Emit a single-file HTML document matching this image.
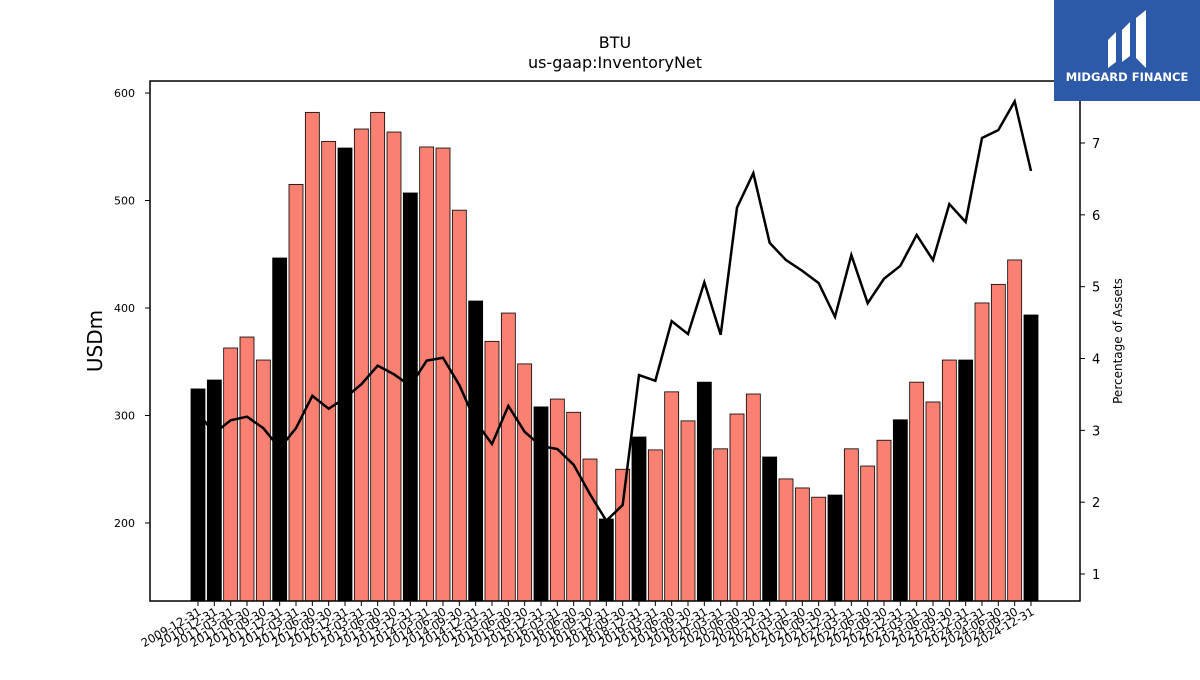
<!DOCTYPE html>
<html><head><meta charset="utf-8"><style>
body{margin:0;background:#fff;font-family:"Liberation Sans","DejaVu Sans",sans-serif}
svg text{font-family:"DejaVu Sans","Liberation Sans",sans-serif}
</style></head><body>
<svg id="c" width="1200" height="675" viewBox="0 0 1200 675">
<text x="615" y="48" font-size="16" text-anchor="middle">BTU</text>
<text x="615" y="68" font-size="16" text-anchor="middle">us-gaap:InventoryNet</text>
<g id="bars"></g><g id="line"></g><g id="axes"></g>
<rect x="150" y="81" width="930" height="520" fill="none" stroke="#000" stroke-width="1.5"/>
<text transform="translate(102,341) rotate(-90)" font-size="20" text-anchor="middle">USDm</text>
<text transform="translate(1122,341) rotate(-90)" font-size="12" text-anchor="middle">Percentage of Assets</text>
<g>
<rect x="1054" y="0" width="146" height="101" fill="#2d5aa8"/>
<path d="M1108 68 L1108 40 L1116 32 L1116 62 Z M1122 62 L1122 30 L1130 22 L1130 56 Z M1136 58 L1136 18 L1146 10 L1146 68 Z" fill="#fff"/>
<text x="1127" y="81" font-size="11.5" font-weight="bold" fill="#fff" text-anchor="middle">MIDGARD FINANCE</text>
</g>
</svg>
<script>
const labels=["2009-12-31","2010-12-31","2011-03-31","2011-06-30","2011-09-30","2011-12-31","2012-03-31","2012-06-30","2012-09-30","2012-12-31","2013-03-31","2013-06-30","2013-09-30","2013-12-31","2014-03-31","2014-06-30","2014-09-30","2014-12-31","2015-03-31","2015-06-30","2015-09-30","2015-12-31","2016-03-31","2016-06-30","2016-09-30","2016-12-31","2018-09-30","2018-12-31","2019-03-31","2019-06-30","2019-09-30","2019-12-31","2020-03-31","2020-06-30","2020-09-30","2020-12-31","2021-03-31","2021-06-30","2021-09-30","2021-12-31","2022-03-31","2022-06-30","2022-09-30","2022-12-31","2023-03-31","2023-06-30","2023-09-30","2023-12-31","2024-03-31","2024-06-30","2024-09-30","2024-12-31"];
const inventory=[324.7,333,362.8,373,351.6,446.5,515,582,555,548.8,566.5,582,563.7,507,549.8,548.8,491,406.5,369,395.3,348,308,315.3,303,259.5,203.7,250,280,268,322,295,331,269,301.4,320,261.4,241,232.6,224,226,269,253,277,296,331,312.6,351.6,351.6,404.7,422,444.7,393.5];
const pctAssets=[3.24,2.96,3.14,3.19,3.03,2.75,3.03,3.48,3.30,3.45,3.64,3.90,3.78,3.62,3.97,4.01,3.63,3.12,2.81,3.34,2.98,2.78,2.74,2.52,2.11,1.74,1.96,3.77,3.69,4.52,4.34,5.06,4.33,6.10,6.58,5.61,5.37,5.22,5.05,4.58,5.44,4.77,5.11,5.29,5.72,5.37,6.15,5.90,7.07,7.18,7.58,6.61];
const leftTicks=[200,300,400,500,600];
const rightTicks=[1,2,3,4,5,6,7];
const NS="http://www.w3.org/2000/svg";
const x0=198,step=(1031-198)/51,bw=14;
const X=i=>x0+i*step;
const Y=v=>523-(v-200)*1.075;
const Y2=v=>143-(v-7)*71.83;
function mk(t,a,p){const e=document.createElementNS(NS,t);for(const k in a)e.setAttribute(k,a[k]);p.appendChild(e);return e;}
const gb=document.getElementById('bars'),gl=document.getElementById('line'),ga=document.getElementById('axes');
inventory.forEach((v,i)=>{
 const q4=labels[i].endsWith("12-31");
 const r=mk('rect',{x:X(i)-bw/2,y:Y(v),width:bw,height:601-Y(v),fill:q4?'#000':'#fa8072',stroke:'#000','stroke-width':0.8},gb);
 
 
 const t=mk('line',{x1:X(i),x2:X(i),y1:601,y2:606,stroke:'#000'},ga);
 const tx=mk('text',{x:0,y:0,'font-size':11.5,'text-anchor':'end',transform:`translate(${X(i)+4},${614}) rotate(-30)`},ga);
 tx.textContent=labels[i];
 
 
});
const pl=mk('polyline',{points:pctAssets.map((v,i)=>X(i)+','+Y2(v)).join(' '),fill:'none',stroke:'#000','stroke-width':2.5},gl);


leftTicks.forEach(v=>{
 mk('line',{x1:145,x2:150,y1:Y(v),y2:Y(v),stroke:'#000'},ga);
 const t=mk('text',{x:135,y:Y(v)+4,'font-size':11,'text-anchor':'end'},ga);
 t.textContent=v;
 
 
});
rightTicks.forEach(v=>{
 mk('line',{x1:1080,x2:1085,y1:Y2(v),y2:Y2(v),stroke:'#000'},ga);
 const t=mk('text',{x:1092,y:Y2(v)+5,'font-size':13},ga);
 t.textContent=v;
 
 
});
</script>
</body></html>
